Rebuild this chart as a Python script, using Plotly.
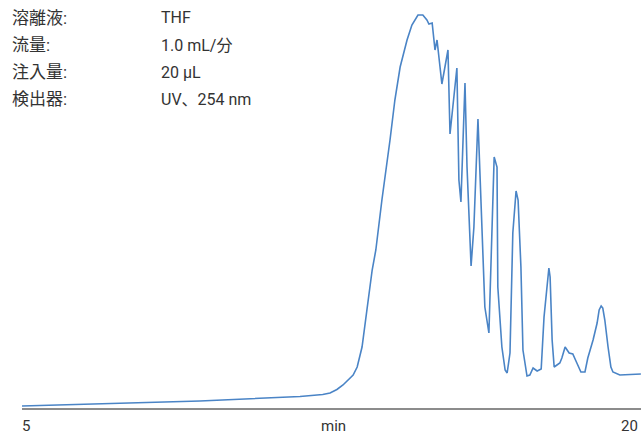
import plotly.graph_objects as go

# Chromatogram data (time in min, detector signal in arbitrary units)
time_min = [5.00, 9.39, 11.86, 12.23, 12.42, 12.60, 12.77, 12.92, 13.05, 13.17, 13.27, 13.31, 13.39,
            13.51, 13.64, 13.73,
            13.88, 14.08, 14.20, 14.33, 14.50, 14.62, 14.77, 14.89, 14.99, 15.04, 15.12, 15.19,
            15.24, 15.36, 15.51, 15.56, 15.73, 15.78, 15.83, 15.93, 15.98, 16.08, 16.15, 16.25,
            16.35, 16.42, 16.52, 16.60, 16.65, 16.72, 16.74, 16.84, 16.92, 16.97, 17.04, 17.11,
            17.19, 17.24, 17.31, 17.36, 17.41, 17.46, 17.53, 17.61, 17.71, 17.81, 17.88, 17.95,
            18.00, 18.03, 18.08, 18.13, 18.27, 18.32, 18.40, 18.50, 18.59, 18.69, 18.79, 18.89,
            18.96, 19.09, 19.19, 19.24, 19.29, 19.33, 19.38, 19.46, 19.53, 19.58, 19.75, 20.27]
signal = [2, 7, 11.5, 12.5, 13.5, 15, 18.5, 23, 28, 33, 41, 48, 61,
          98, 138, 158,
          208, 268, 308, 341, 368, 383, 393, 393, 388, 384, 385, 358,
          368, 324, 358, 274, 340, 228, 206, 325, 241, 142, 181, 289,
          175, 101, 75, 175, 251, 241, 121, 61, 38, 35, 55, 175,
          217, 208, 141, 58, 45, 32, 33, 40, 37, 39, 91, 121,
          140, 131, 68, 41, 45, 50, 61, 55, 54, 45, 36, 36,
          50, 68, 85, 98, 102, 100, 88, 61, 41, 36, 33, 34]

cond_labels = ["溶離液:", "流量:", "注入量:", "検出器:"]
cond_values = ["THF", "1.0 mL/分", "20 µL", "UV、254 nm"]

axis_labels = ["5", "min", "20"]

FONT = "Roboto, Noto Sans CJK JP, sans-serif"
TXT = "#333333"

fig = go.Figure()
fig.add_trace(go.Scatter(x=time_min, y=signal, mode="lines",
                         line=dict(color="#4a84c6", width=1.6),
                         hoverinfo="skip", showlegend=False))

W, H = 641, 436
L, B = 22, 28
plot_w, plot_h = W - L, H - B

def px_x(px):
    return (px - L) / plot_w

def px_y(py):
    return (H - B - py) / plot_h

annotations = []
row_y = [18, 45, 72, 99]
for lab, val, ry in zip(cond_labels, cond_values, row_y):
    annotations.append(dict(x=px_x(10), y=px_y(ry), xref="paper", yref="paper",
                            text=lab, showarrow=False, xanchor="left", yanchor="middle",
                            font=dict(family=FONT, size=17, color=TXT)))
    annotations.append(dict(x=px_x(159), y=px_y(ry), xref="paper", yref="paper",
                            text=val, showarrow=False, xanchor="left", yanchor="middle",
                            font=dict(family=FONT, size=16, color=TXT)))

label_px = [(20, "left"), (333, "center"), (640, "right")]
for txt, (lx, anc) in zip(axis_labels, label_px):
    annotations.append(dict(x=px_x(lx), y=px_y(426), xref="paper", yref="paper",
                            text=txt, showarrow=False, xanchor=anc, yanchor="middle",
                            font=dict(family=FONT, size=15, color=TXT)))

fig.update_layout(
    width=W, height=H,
    margin=dict(l=L, r=0, t=0, b=B),
    paper_bgcolor="white", plot_bgcolor="white",
    xaxis=dict(range=[5, 5 + plot_w / 40.53], showgrid=False, zeroline=False,
               showticklabels=False, ticks="", showline=True,
               linecolor="#8c8c8c", linewidth=2, fixedrange=True),
    yaxis=dict(range=[0, plot_h], visible=False, fixedrange=True),
    annotations=annotations,
)

fig.write_html("out.html")
